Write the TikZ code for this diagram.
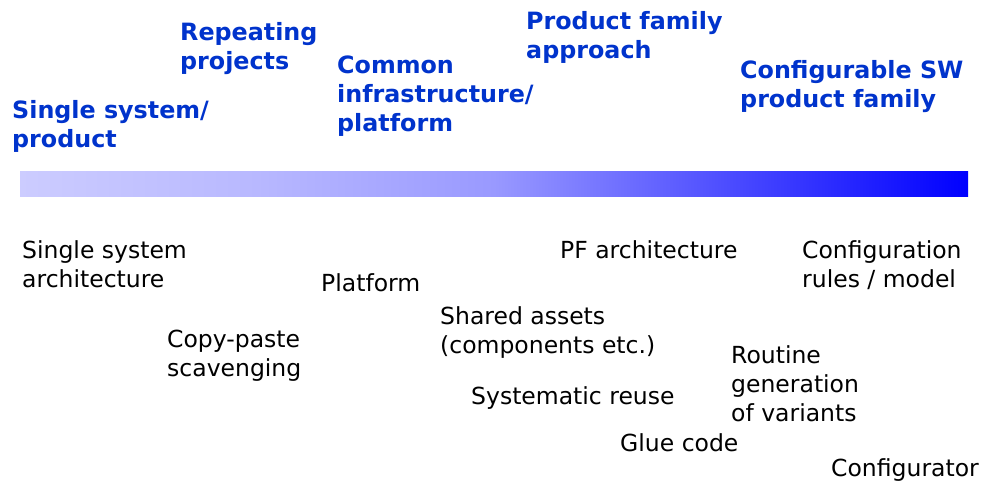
\documentclass[tikz,border=0pt]{standalone}
\usepackage{fontspec}
\setmainfont{DejaVu Sans}
\definecolor{stageblue}{HTML}{0033CC}
\definecolor{barA}{RGB}{204,204,255}
\definecolor{barB}{RGB}{184,184,255}
\definecolor{barC}{RGB}{153,153,255}
\definecolor{barD}{RGB}{72,72,255}
\definecolor{barE}{RGB}{0,0,255}
% colour ramp of the maturity bar (the 25bp..75bp span covers the path)
\pgfdeclarehorizontalshading{maturity}{100bp}{%
  color(0bp)=(barA); color(25bp)=(barA); color(37.5bp)=(barB);
  color(50bp)=(barC); color(63bp)=(barD); color(75bp)=(barE);
  color(100bp)=(barE)}
% nodes are placed by the baseline of their last line
\tikzset{
  stage/.style={anchor=base west, inner sep=0pt, align=left,
    text=stageblue, font=\fontsize{23.8}{29}\selectfont\bfseries},
  item/.style={anchor=base west, inner sep=0pt, align=left,
    text=black, font=\fontsize{23.5}{29}\selectfont},
}
\begin{document}
\begin{tikzpicture}[x=1pt,y=-1pt]
\useasboundingbox (0,0) rectangle (984,481);

% maturity bar
\shade[shading=maturity] (20,172) rectangle (968,196.5);

% stages above the bar
\node[stage] (single)   at (12,148)  {Single system/\\product};
\node[stage] (repeat)   at (180,70)  {Repeating\\projects};
\node[stage] (common)   at (337,132) {Common\\infrastructure/\\platform};
\node[stage] (pfam)     at (526,59)  {Product family\\approach};
\node[stage] (config)   at (740,108) {Configurable SW\\product family};

% practices below the bar
\node[item] (ssarch)    at (22,287)  {Single system\\architecture};
\node[item] (platform)  at (321,291) {Platform};
\node[item] (copy)      at (167,376) {Copy-paste\\scavenging};
\node[item] (shared)    at (440,353) {Shared assets\\(components etc.)};
\node[item] (sysreuse)  at (471,404) {Systematic reuse};
\node[item] (pfarch)    at (560,258) {PF architecture};
\node[item] (glue)      at (620,451) {Glue code};
\node[item] (rules)     at (802,287) {Configuration\\rules / model};
\node[item] (routine)   at (731,421) {Routine\\generation\\of variants};
\node[item] (cfgtool)   at (831,476) {Configurator};
\end{tikzpicture}
\end{document}
